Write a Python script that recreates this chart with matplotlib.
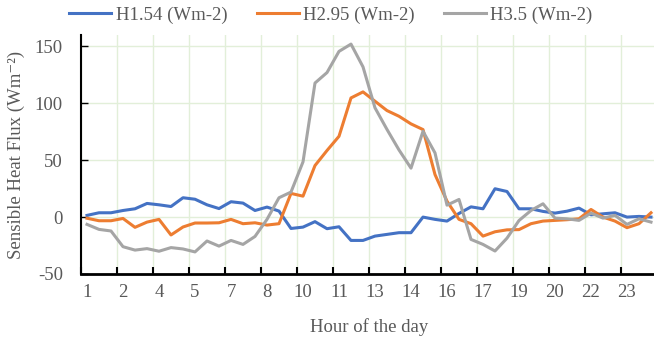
import numpy as np
import matplotlib
matplotlib.use('Agg')
import matplotlib.pyplot as plt

# half-hourly sensible heat flux, three heights
h154 = [1.5, 3.8, 3.8, 5.8, 7.3, 12, 10.8, 9.3, 17, 15.7, 10.8, 7.5,
        13.5, 12.3, 5.8, 8.8, 5.3, -10, -8.8, -4, -10.2, -8.5, -20.5, -20.5,
        -16.7, -15.2, -13.7, -13.7, 0, -2, -3.5, 3.2, 9, 7.3, 24.9, 22.5,
        7.3, 7.3, 5, 3.5, 5.2, 7.9, 2, 2.9, 3.8, 0, 0.6, 0]
h295 = [-1, -3.2, -3.2, -1.2, -9, -4.4, -2, -15.7, -8.7, -5.2, -5.2, -5,
        -2, -5.8, -5, -7, -5.8, 20.8, 18.4, 45.3, 58.5, 71, 104.7, 110,
        101.8, 93.6, 88.6, 81.9, 76.9, 37.4, 14, -2, -5.8, -16.7, -12.9, -11.2,
        -11, -5.8, -3.5, -2.9, -2.3, -1.5, 6.7, 0, -3.5, -9.3, -5.8, 3.8]
h35 = [-6.4, -10.8, -12.2, -26, -29, -27.7, -30, -26.8, -28, -30.6, -21, -25.5,
       -20.5, -24, -17, -2, 17, 22, 48.5, 117.8, 127, 145.6, 152, 132,
       96, 77, 59, 43, 75.4, 56.4, 10.5, 15.5, -19.6, -24, -29.8, -18.5,
       -3, 5.8, 11.7, -0.9, -1.5, -2.9, 3.5, -0.9, 1.5, -6.4, -1.5, -4.4]
tick_labels = ['1', '2', '4', '5', '7', '8', '10', '11', '13', '14',
               '16', '17', '19', '20', '22', '23']
series_names = ['H1.54 (Wm-2)', 'H2.95 (Wm-2)', 'H3.5 (Wm-2)']
colors = ['#4472C4', '#ED7D31', '#A5A5A5']

plt.rcParams['font.family'] = ['Liberation Serif', 'DejaVu Serif']
plt.rcParams['axes.unicode_minus'] = False
txt = '#595959'
fs = 13.5

W, H = 654, 341
fig = plt.figure(figsize=(W / 100, H / 100), dpi=100)
ax = fig.add_axes([81 / W, (H - 274) / H, (657 - 81) / W, (274 - 35) / H])

x = np.arange(len(h154))
for vals, c, name in zip([h154, h295, h35], colors, series_names):
    ax.plot(x, vals, color=c, lw=2.2, label=name, solid_joinstyle='round')

ax.set_xlim(-0.5, len(x) - 0.5)
ax.set_ylim(-50, 160)
ax.set_yticks([-50, 0, 50, 100, 150])

# category axis: tick marks between categories, labels on every 3rd category
ax.set_xticks(np.arange(-0.5, len(x), 3))
ax.set_xticklabels([])
ax.set_xticks(np.arange(0, len(x), 3), minor=True)
ax.set_xticklabels(tick_labels, minor=True)
ax.tick_params(axis='x', which='major', direction='in', length=5, width=1.5, color='black')
ax.tick_params(axis='x', which='minor', length=0, pad=7, labelsize=fs, labelcolor=txt)
ax.tick_params(axis='y', direction='in', length=5, width=1, color='black',
               labelsize=fs, labelcolor=txt, pad=13)

ax.grid(True, which='major', color='#E2EFD9', lw=1)
ax.set_axisbelow(True)
for s in ['top', 'right']:
    ax.spines[s].set_visible(False)
ax.spines['left'].set_linewidth(1.5)
ax.spines['bottom'].set_linewidth(2)

ax.set_ylabel('Sensible Heat Flux (Wm\u207b\u00b2)', fontsize=fs, color=txt)
ax.yaxis.set_label_coords((25 - 81) / (657 - 81), 0.5)
ax.set_xlabel('Hour of the day', fontsize=fs, color=txt)
ax.xaxis.set_label_coords((369 - 81) / (657 - 81), (274 - 318) / (274 - 35))

fig.legend(loc='center', bbox_to_anchor=(331 / W, 1 - 15 / H), ncol=3, frameon=False,
           fontsize=fs, labelcolor=txt, handlelength=2.24, handletextpad=0.24,
           columnspacing=1.55)

fig.savefig('out.png', dpi=100)
